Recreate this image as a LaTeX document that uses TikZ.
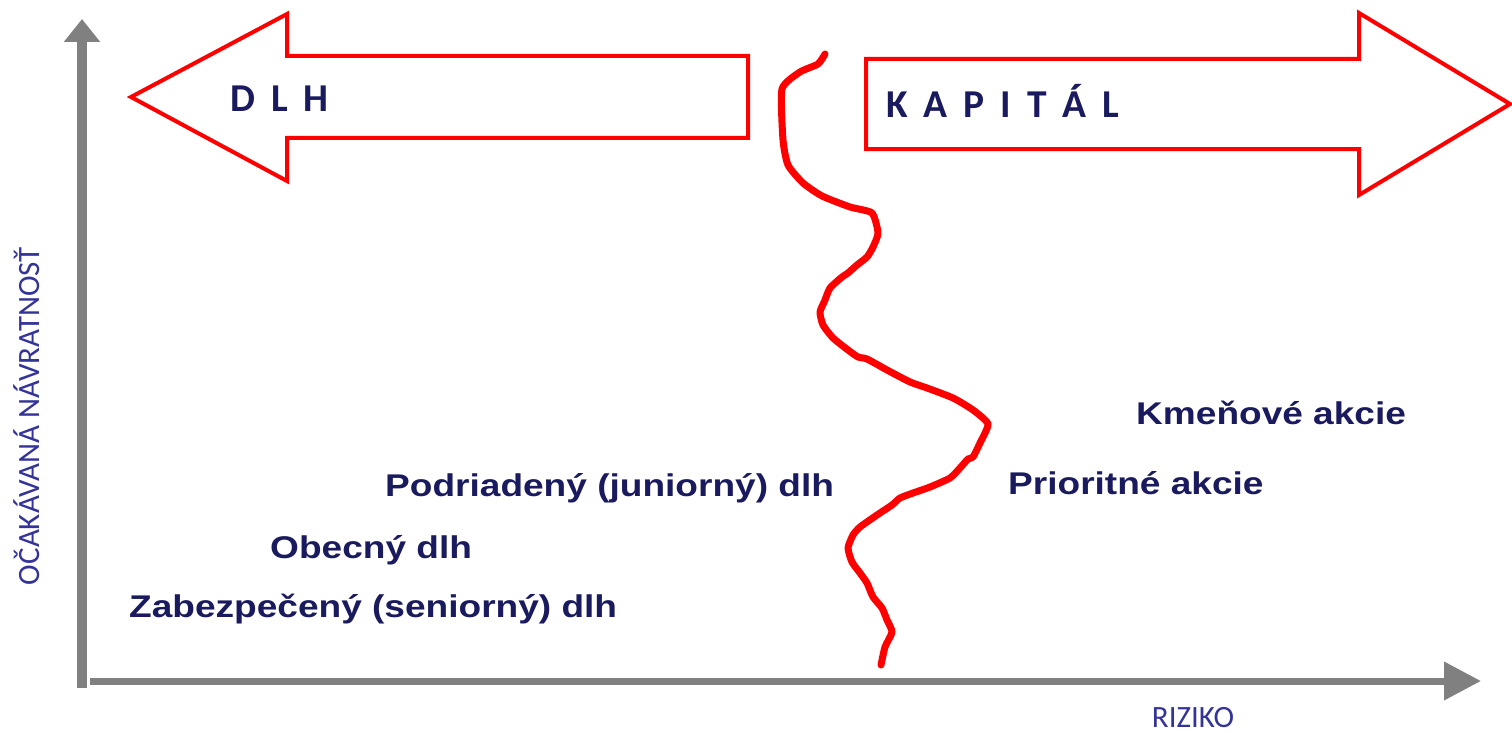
\documentclass[tikz,border=0pt]{standalone}
\usepackage{fontspec}
\setmainfont{Liberation Sans}
\newfontfamily\labfont[FakeStretch=1.18]{Liberation Sans}
\newfontfamily\calfont{Carlito}
\usetikzlibrary{arrows.meta}
\definecolor{txtnavy}{HTML}{1A1A5E}
\definecolor{axblue}{HTML}{333399}
\definecolor{axgray}{HTML}{808080}
\definecolor{bigred}{HTML}{FF0000}
\newcommand\lsp{\hspace{16pt}}
\begin{document}
\begin{tikzpicture}[x=1pt,y=-1pt,
  axis/.style={draw=axgray},
  bigarrow/.style={draw=bigred, line width=4pt, fill=white},
  border/.style={draw=bigred, line width=7pt, line join=round, line cap=round},
  lbl/.style={text=txtnavy, font=\labfont\bfseries\fontsize{31.4}{36}\selectfont, anchor=base west, inner sep=0pt},
  head/.style={text=txtnavy, font=\calfont\bfseries\fontsize{39.5}{44}\selectfont, anchor=base west, inner sep=0pt},
  axl/.style={text=axblue, font=\calfont\fontsize{31}{36}\selectfont, inner sep=0pt}]
\useasboundingbox (0,0) rectangle (1512,733);

% axes
\coordinate (ybot) at (82,688);
\coordinate (ytop) at (82,19);
\coordinate (xleft) at (90,681);
\coordinate (xright) at (1481,681);
\draw[axis, line width=10pt, -{Triangle[length=23pt,width=35pt]}] (ybot) -- (ytop);
\draw[axis, line width=7pt, -{Triangle[length=37pt,width=37pt]}] (xleft) -- (xright);

\node[axl, rotate=90] (ylab) at (27,416) {OČAKÁVANÁ NÁVRATNOSŤ};
\node[axl, anchor=base] (xlab) at (1193,727) {RIZIKO};

% big arrows
\draw[bigarrow] (131,97) -- (287,14) -- (287,56) -- (748,56) -- (748,138) -- (287,138) -- (287,181) -- cycle;
\draw[bigarrow] (866,59) -- (1359,59) -- (1359,13) -- (1510,104) -- (1359,195) -- (1359,149) -- (866,149) -- cycle;
\node[head] (dlh) at (230,112) {D\lsp L\lsp H};
\node[head] (kap) at (886,118) {K\lsp A\lsp P\lsp I\lsp T\lsp Á\lsp L};

% border curve
\draw[border] plot[smooth, tension=0.35] coordinates {
(825,54) (818,64) (800,72) (782,89) (783,140) (788,165) (803,183) (822,196) (850,207) (872,213)
(878,233) (873,247) (867,257) (857,265) (848,273) (842,277) (830,288) (825,300) (820,312)
(823,325) (833,338) (848,350) (858,357) (867,359) (887,370) (910,382) (927,388) (953,398)
(973,410) (988,424) (980,443) (973,457) (968,459) (960,468) (950,478) (930,487) (913,493)
(900,498) (892,505) (877,515) (860,527) (853,535) (848,548) (852,562) (860,573) (867,583)
(873,597) (882,608) (887,620) (892,632) (885,647) (881,665)};

% labels
\node[lbl] (kmen) at (1136,424) {Kmeňové akcie};
\node[lbl] (prio) at (1008,494) {Prioritné akcie};
\node[lbl] (podr) at (385,496) {Podriadený (juniorný) dlh};
\node[lbl] (obec) at (270,558) {Obecný dlh};
\node[lbl] (zabe) at (129,617) {Zabezpečený (seniorný) dlh};
\end{tikzpicture}
\end{document}
